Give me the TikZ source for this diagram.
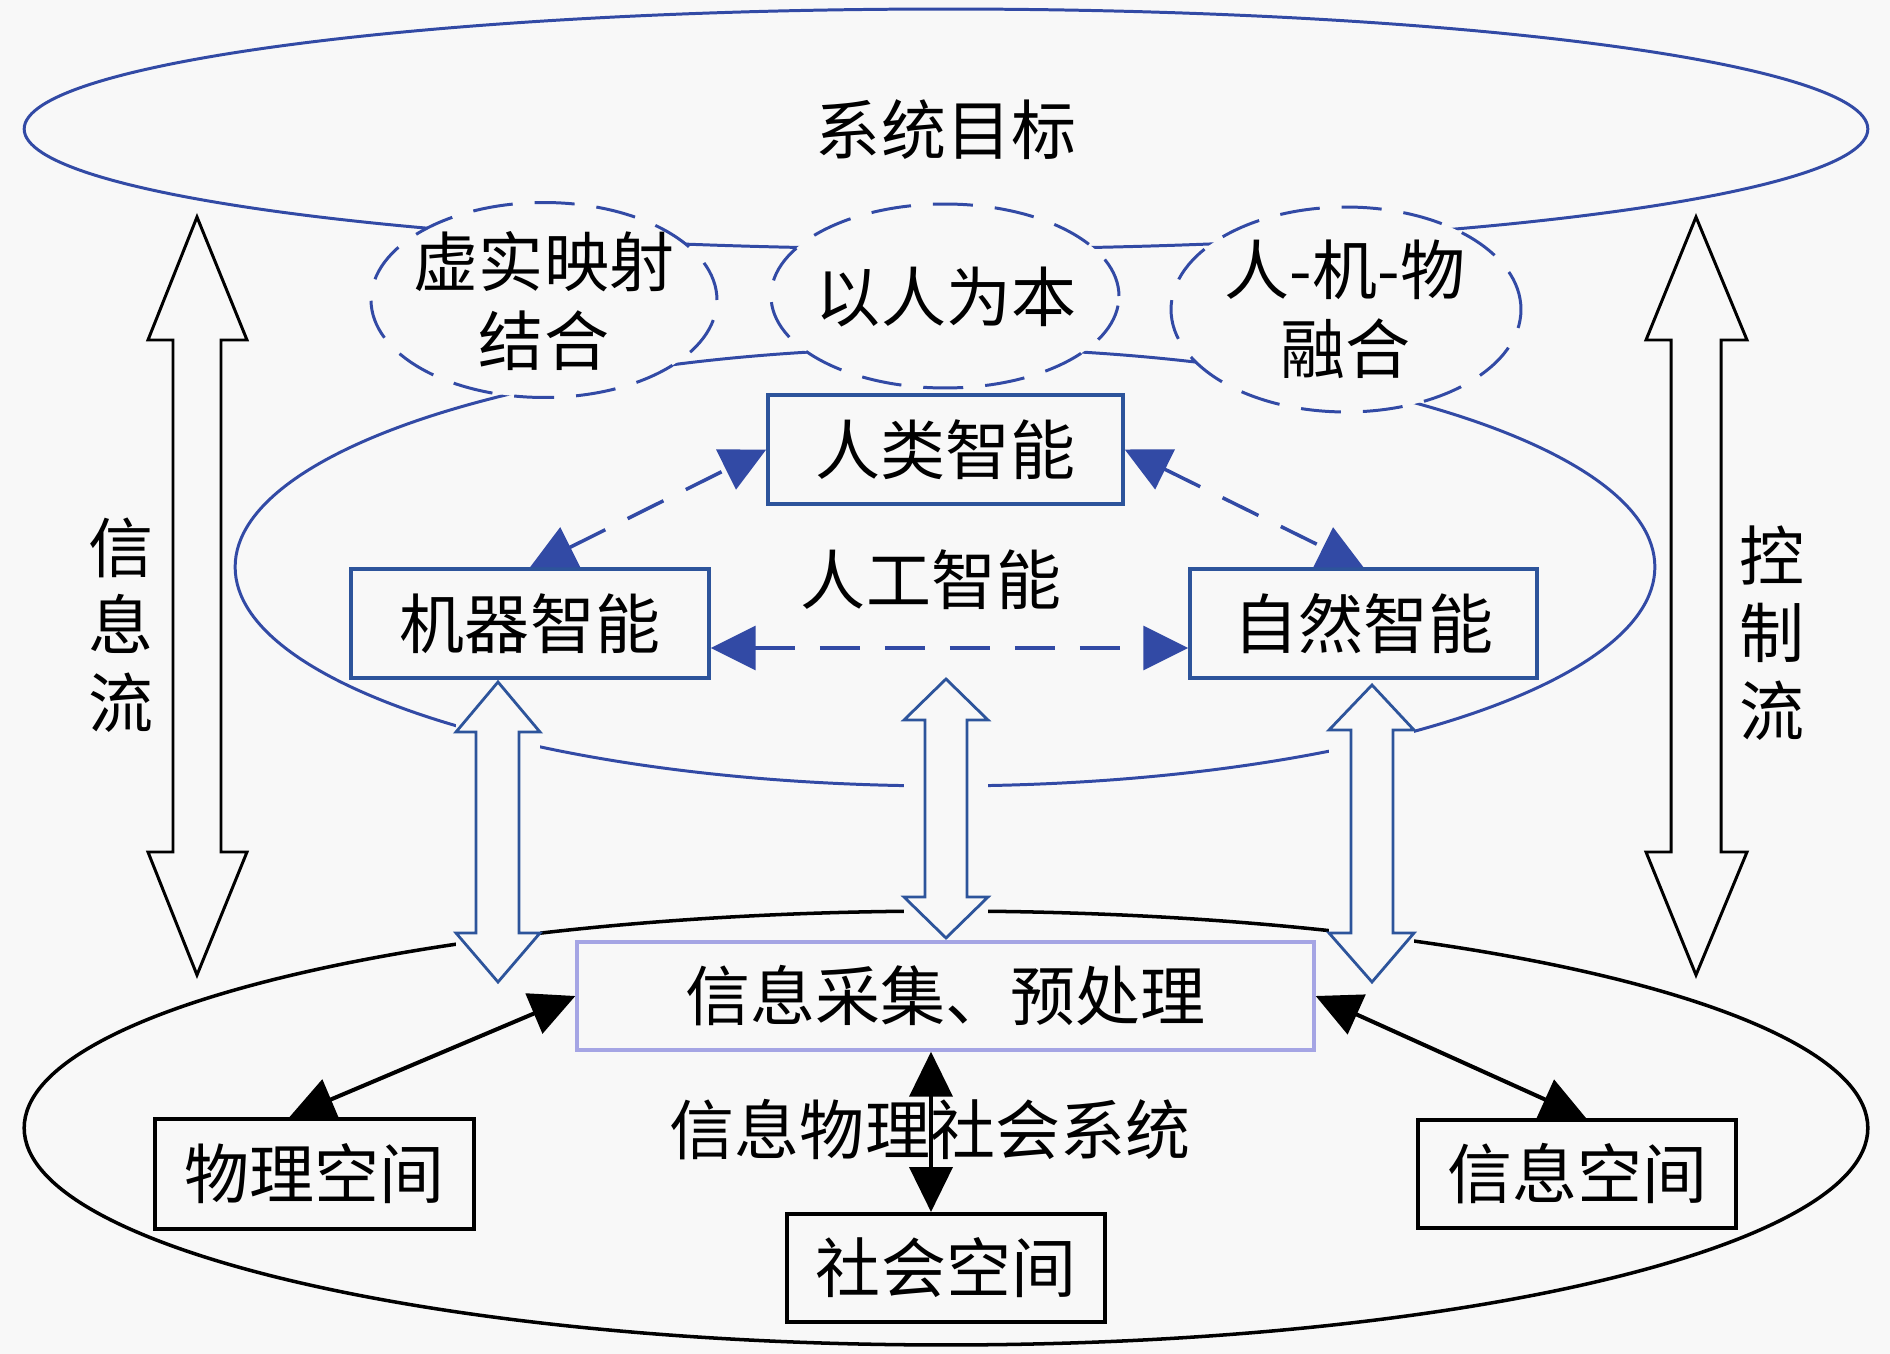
\documentclass[tikz,border=0pt]{standalone}
\usepackage{fontspec}
\setmainfont{Noto Sans CJK SC}
\usetikzlibrary{arrows.meta,shapes.geometric,calc}
\definecolor{bgc}{RGB}{248,248,248}
\definecolor{bline}{RGB}{50,74,165}
\definecolor{bbox}{RGB}{45,84,155}
\definecolor{lav}{RGB}{165,165,228}
\begin{document}
\begin{tikzpicture}[x=0.02cm,y=-0.02cm,
  txt/.style={inner sep=0pt, font=\fontsize{37pt}{45pt}\selectfont, align=center},
  bigell/.style={ellipse, draw=bline, line width=1.7pt, inner sep=0pt},
  dell/.style={ellipse, draw=bline, line width=1.7pt, dash pattern=on 0.8cm off 0.44cm, fill=bgc, inner sep=0pt},
  bluebox/.style={draw=bbox, line width=2pt, fill=bgc, inner sep=0pt, minimum height=2.18cm, font=\fontsize{37pt}{45pt}\selectfont},
  blackbox/.style={draw=black, line width=2.3pt, fill=bgc, inner sep=0pt, minimum height=2.18cm, font=\fontsize{37pt}{45pt}\selectfont},
  harr/.style={draw=bbox, line width=1.6pt, fill=bgc, line join=miter},
  bigarr/.style={draw=black, line width=1.7pt, fill=bgc, line join=miter},
  darr/.style={draw=bline, line width=2pt, dash pattern=on 0.8cm off 0.5cm, >={Triangle[length=0.9cm,width=0.88cm]}, <->},
  barr/.style={draw=black, line width=2.3pt, >={Triangle[length=0.9cm,width=0.86cm]}, <->}
]
\useasboundingbox (0,0) rectangle (1890,1354);
\fill[bgc] (0,0) rectangle (1890,1354);

% large ellipses
\node[bigell, minimum width=36.88cm, minimum height=4.8cm] (topell) at (946,129) {};
\node[bigell, minimum width=28.4cm, minimum height=8.76cm] (midell) at (945,567) {};
\node[bigell, draw=black, line width=2pt, minimum width=36.88cm, minimum height=8.68cm] (botell) at (946,1128) {};

% dashed ellipses
\node[dell, minimum width=6.92cm, minimum height=3.9cm] (xushi) at (544,300) {};
\node[dell, minimum width=6.96cm, minimum height=3.68cm] (yiren) at (945,296) {};
\node[dell, minimum width=7.0cm, minimum height=4.1cm] (renji) at (1346,309.5) {};

\node[txt] (goal) at (946,130) {系统目标};
\node[txt] (xushit) at (544,301.5) {虚实映射\\结合};
\node[txt] (yirent) at (946,297) {以人为本};
\node[txt] (renjit) at (1345,309.5) {人-机-物\\融合};

% hollow blue double arrows (with their background strip)
\fill[bgc] (456,682) rectangle (540,982);
\draw[harr] (498,682) -- (540,732) -- (519,732) -- (519,933) -- (540,933) -- (498,982) -- (456,933) -- (476,933) -- (476,732) -- (456,732) -- cycle;
\fill[bgc] (904,679) rectangle (988,938);
\draw[harr] (946,679) -- (988,720) -- (967,720) -- (967,897) -- (988,897) -- (946,938) -- (904,897) -- (925,897) -- (925,720) -- (904,720) -- cycle;
\fill[bgc] (1329,685) rectangle (1414,982);
\draw[harr] (1372,685) -- (1414,730) -- (1393,730) -- (1393,933) -- (1414,933) -- (1372,982) -- (1329,933) -- (1351,933) -- (1351,730) -- (1329,730) -- cycle;

% boxes
\node[bluebox, minimum width=7.1cm] (hum) at (945.5,449.5) {人类智能};
\node[bluebox, minimum width=7.16cm] (mach) at (530,623.5) {机器智能};
\node[bluebox, minimum width=6.94cm] (nat) at (1363.5,623.5) {自然智能};
\node[blackbox, draw=lav, line width=2pt, minimum width=14.74cm, minimum height=2.16cm] (info) at (945.5,996) {信息采集、预处理};
\node[blackbox, minimum width=6.38cm, minimum height=2.2cm] (phys) at (314.5,1174) {物理空间};
\node[blackbox, minimum width=6.36cm, minimum height=2.16cm] (cyber) at (1577,1174) {信息空间};
\node[blackbox, minimum width=6.36cm, minimum height=2.16cm] (soc) at (946,1268) {社会空间};

\node[txt] (ai) at (931,580) {人工智能};
\node[txt] (cpss) at (930,1130) {信息物理社会系统};

% dashed blue arrows
\draw[darr] (mach.north) -- (hum.west);
\draw[darr] (hum.east) -- (nat.north);
\draw[darr] ($(mach.east)+(0,24.5)$) -- ($(nat.west)+(0,24.5)$);

% black arrows
\draw[barr] ($(phys.north)+(-25,0)$) -- (info.west);
\draw[barr] (info.east) -- ($(cyber.north)+(9,0)$);
\draw[barr] ($(info.south)+(-14.5,0)$) -- ($(soc.north)+(-15,0)$);

% big side arrows
\draw[bigarr] (197,217) -- (247,340) -- (221,340) -- (221,852) -- (247,852) -- (197,975) -- (148,852) -- (173,852) -- (173,340) -- (148,340) -- cycle;
\draw[bigarr] (1696,217) -- (1747,340) -- (1721,340) -- (1721,852) -- (1747,852) -- (1696,975) -- (1646,852) -- (1671,852) -- (1671,340) -- (1646,340) -- cycle;
\node[txt, font=\fontsize{37pt}{44pt}\selectfont] (infoflow) at (121,625) {信\\息\\流};
\node[txt, font=\fontsize{37pt}{44pt}\selectfont] (ctrlflow) at (1772,633) {控\\制\\流};
\end{tikzpicture}
\end{document}
